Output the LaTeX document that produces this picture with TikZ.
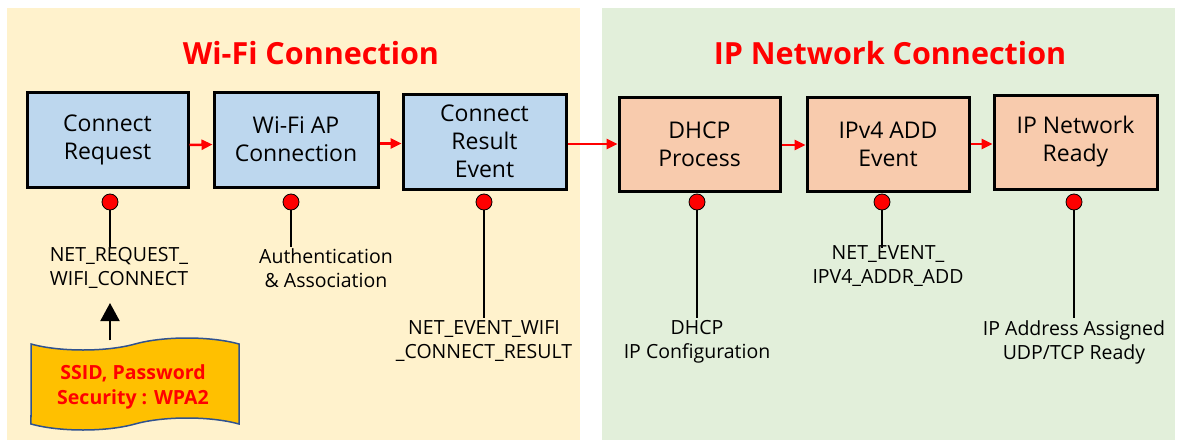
\documentclass[tikz,border=0pt]{standalone}
\usepackage{fontspec}
\setmainfont{Open Sans}
\usetikzlibrary{arrows.meta,shapes.symbols}
\definecolor{panelY}{HTML}{FFF2CC}
\definecolor{panelG}{HTML}{E2EFDA}
\definecolor{boxB}{HTML}{BDD7EE}
\definecolor{boxO}{HTML}{F8CBAD}
\definecolor{tapeF}{HTML}{FFC000}
\definecolor{tapeD}{HTML}{2F528F}
\begin{document}
\begin{tikzpicture}[x=1pt,y=-1pt,
  stepbox/.style={draw=black,line width=3pt,align=center,inner sep=0pt,
    font=\fontsize{23}{28}\selectfont},
  bluebox/.style={stepbox,fill=boxB},
  orangebox/.style={stepbox,fill=boxO},
  dot/.style={circle,draw=black,line width=0.8pt,fill=red,minimum size=16pt,inner sep=0pt},
  stem/.style={line width=1.8pt,black},
  lbl/.style={align=center,inner sep=0pt,anchor=north,font=\fontsize{19.5}{24}\selectfont},
  flow/.style={draw=red,line width=2.5pt,-{Triangle[width=10pt,length=11pt]}},
  title/.style={text=red,font=\fontsize{30.5}{36}\selectfont\bfseries}]
\useasboundingbox (0,0) rectangle (1181,447);
\fill[white] (0,0) rectangle (1181,447);
\fill[panelY] (7,8) rectangle (580,440);
\fill[panelG] (602,8) rectangle (1175,440);
\node[title] (t1) at (311,53) {Wi-Fi Connection};
\node[title] (t2) at (890,53) {IP Network Connection};
% boxes
\node[bluebox,minimum width=161pt,minimum height=95pt] (b1) at (107.5,140) {Connect\\Request};
\node[bluebox,minimum width=164pt,minimum height=95pt] (b2) at (296,139.5) {Wi-Fi AP\\Connection};
\node[bluebox,minimum width=163pt,minimum height=95pt] (b3) at (484.5,141.5) {Connect\\Result\\Event};
\node[orangebox,minimum width=161pt,minimum height=94pt] (b4) at (699.5,144) {DHCP\\Process};
\node[orangebox,minimum width=162pt,minimum height=94pt] (b5) at (888,144) {IPv4 ADD\\Event};
\node[orangebox,minimum width=163pt,minimum height=94pt] (b6) at (1075.5,142) {IP Network\\Ready};
% flow arrows
\draw[flow] ([yshift=-5pt]b1.east) -- ([yshift=-5pt]b2.west);
\draw[flow] ([yshift=-4pt]b2.east) -- ([yshift=-4pt]b2.east -| b3.west);
\draw[flow] ([yshift=-2.5pt]b3.east) -- (b4.west);
\draw[flow] ([yshift=-1pt]b4.east) -- ([yshift=-1pt]b5.west);
\draw[flow] (b5.east) -- (b5.east -| b6.west);
% labels
\node[lbl] (l1) at (119,247) {NET\_REQUEST\_\\WIFI\_CONNECT};
\node[lbl] (l2) at (326,248) {Authentication\\\& Association};
\node[lbl] (l3) at (484,320) {NET\_EVENT\_WIFI\\\_CONNECT\_RESULT};
\node[lbl] (l4) at (697,320) {DHCP\\IP Configuration};
\node[lbl] (l5) at (888,245) {NET\_EVENT\_\\IPV4\_ADDR\_ADD};
\node[lbl] (l6) at (1074,320) {IP Address Assigned\\UDP/TCP Ready};
% dots and stems
\foreach \i/\x/\yy in {1/110/247,2/291/247,3/484/318,4/697/318,5/882/248,6/1074/318}{
  \coordinate (e\i) at (\x,\yy);
  \node[dot] (d\i) at (\x,202) {};
  \draw[stem] (d\i.south) -- (e\i);
}
% tape
\node[tape,draw=tapeD,line width=1.5pt,fill=tapeF,minimum width=208pt,minimum height=92pt,
  tape bend height=12pt,inner sep=0pt,align=center,text=red,
  font=\fontsize{19.5}{25}\selectfont\bfseries] (tp) at (135,384) {};
\node[align=center,text=red,inner sep=0pt,font=\fontsize{19.5}{25}\selectfont\bfseries]
  (tt) at (133,387) {SSID, Password\\Security : WPA2};
\coordinate (ah) at (110,303);
\draw[line width=2pt,-{Triangle[width=19pt,length=18pt]}] (tp.north -| ah) ++(0,-3) coordinate (as) -- (ah);
\end{tikzpicture}
\end{document}
